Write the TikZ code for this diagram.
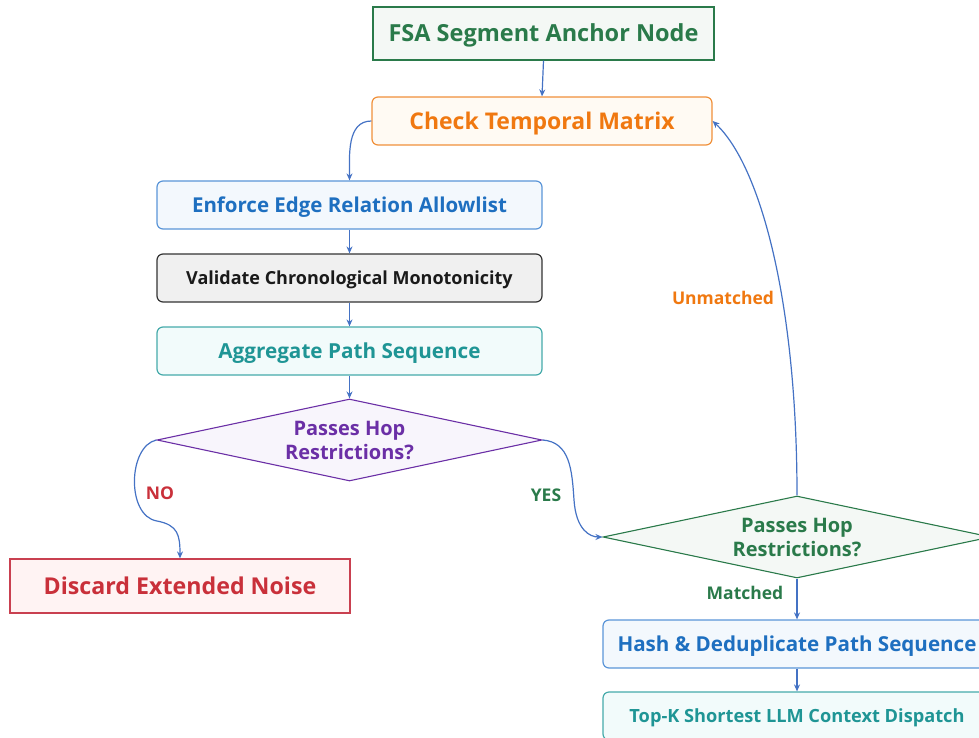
\documentclass[tikz,border=0pt]{standalone}
\usepackage{fontspec}
\setmainfont{Open Sans}
\usetikzlibrary{shapes.geometric,arrows.meta}
\definecolor{cgreen}{HTML}{2A7A4A}
\definecolor{cgreenfill}{HTML}{F4F8F5}
\definecolor{corange}{HTML}{F07810}
\definecolor{corangeb}{HTML}{F0903A}
\definecolor{corangefill}{HTML}{FFFAF3}
\definecolor{cblue}{HTML}{1E6FC0}
\definecolor{cblueb}{HTML}{5A95D8}
\definecolor{cbluefill}{HTML}{F3F8FD}
\definecolor{cdark}{HTML}{1A1A1A}
\definecolor{cdarkb}{HTML}{333333}
\definecolor{cgrayfill}{HTML}{F0F0F0}
\definecolor{cteal}{HTML}{1F9595}
\definecolor{ctealb}{HTML}{45AAAA}
\definecolor{ctealfill}{HTML}{F2FBFB}
\definecolor{cpurple}{HTML}{6B2FA6}
\definecolor{cpurplefill}{HTML}{F8F5FC}
\definecolor{cred}{HTML}{C9303A}
\definecolor{credb}{HTML}{C94050}
\definecolor{credfill}{HTML}{FFF3F3}
\definecolor{carrow}{HTML}{4472C4}
\tikzset{
  fs/.style={font=\bfseries\fontsize{#1}{#1}\selectfont, text height=0.714*#1pt, text depth=0pt},
  box/.style={draw, line width=1.2pt, inner sep=0pt},
  rbox/.style={box, rounded corners=6pt},
  dia/.style={draw, line width=1.1pt, shape=diamond, aspect=4.7, inner sep=0pt, font=\bfseries, align=center},
  conn/.style={draw=carrow, line width=1.2pt, -{Stealth[length=7pt,width=6pt]}},
  lbl/.style={font=\bfseries\fontsize{17.5}{20}\selectfont}
}
\begin{document}
\begin{tikzpicture}[x=1pt,y=-1pt]
\useasboundingbox (0,0) rectangle (979,738);
\clip (0,0) rectangle (979,738);
\node[box, draw=cgreen, fill=cgreenfill, text=cgreen, minimum width=341pt, minimum height=53pt, fs=23.5] (fsa) at (543.5,33.5) {FSA Segment Anchor Node};
\node[rbox, draw=corangeb, fill=corangefill, text=corange, minimum width=340pt, minimum height=48pt, fs=23] (chk) at (542,121) {Check Temporal Matrix};
\node[rbox, draw=cblueb, fill=cbluefill, text=cblue, minimum width=385pt, minimum height=48pt, fs=20.5] (enf) at (349.5,205) {Enforce Edge Relation Allowlist};
\node[rbox, draw=cdarkb, fill=cgrayfill, text=cdark, minimum width=385pt, minimum height=48pt, fs=18] (val) at (349.5,278) {Validate Chronological Monotonicity};
\node[rbox, draw=ctealb, fill=ctealfill, text=cteal, minimum width=385pt, minimum height=48pt, fs=20.7] (agg) at (349.5,351) {Aggregate Path Sequence};
\node[dia, draw=cpurple, fill=cpurplefill, text=cpurple, minimum width=385pt, minimum height=82pt, font=\bfseries\fontsize{20}{24}\selectfont] (d1) at (349.5,440) {Passes Hop\\Restrictions?};
\node[box, draw=credb, fill=credfill, text=cred, minimum width=340pt, minimum height=54pt, fs=23.2] (dis) at (180,586) {Discard Extended Noise};
\node[dia, draw=cgreen, fill=cgreenfill, text=cgreen, minimum width=388pt, minimum height=82pt, font=\bfseries\fontsize{20}{24}\selectfont] (d2) at (797,537) {Passes Hop\\Restrictions?};
\node[rbox, draw=cblueb, fill=cbluefill, text=cblue, minimum width=388pt, minimum height=48pt, fs=20.6] (hash) at (797,644) {Hash \& Deduplicate Path Sequence};
\node[rbox, draw=ctealb, fill=ctealfill, text=cteal, minimum width=388pt, minimum height=48pt, fs=18.2] (top) at (797,716) {Top-K Shortest LLM Context Dispatch};
\draw[conn] (fsa.south) -- (chk.north);
\draw[conn] (chk.west) to[out=180,in=90] (enf.north);
\draw[conn] (enf.south) -- (val.north);
\draw[conn] (val.south) -- (agg.north);
\draw[conn] (agg.south) -- (d1.north);
\draw[conn] (d1.west) .. controls (128,446) and (126,516) .. (157,521) .. controls (178,525) and (180,535) .. (dis.north);
\draw[conn] (d1.east) .. controls (570,442) and (572,470) .. (574,500) .. controls (576,530) and (590,537) .. (d2.west);
\draw[conn] (d2.north) .. controls (797,300) and (760,165) .. (chk.east);
\draw[conn] (d2.south) -- (hash.north);
\draw[conn] (hash.south) -- (top.north);
\node[lbl, text=cred] (no) at (160,493) {NO};
\node[lbl, text=cgreen] (yes) at (546,495) {YES};
\node[lbl, text=corange] (unm) at (723,298) {Unmatched};
\node[lbl, text=cgreen] (mat) at (745,593) {Matched};
\end{tikzpicture}
\end{document}
